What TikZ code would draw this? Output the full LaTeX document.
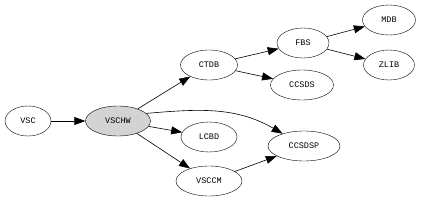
\documentclass[tikz,border=0pt]{standalone}
\usepackage{fontspec}
\setmonofont{Liberation Mono}
\usetikzlibrary{shapes.geometric,arrows.meta}
\definecolor{HWGray}{RGB}{211,211,211}

\begin{document}
\begin{tikzpicture}[x=1pt,y=-1pt,
  modnode/.style={draw,ellipse,inner sep=0pt,minimum height=30pt,
                  minimum width=54pt,font=\ttfamily\fontsize{8.5}{9}\selectfont},
  dep/.style={-{Triangle[length=11pt,width=8pt]},line width=0.6pt},
]
\useasboundingbox (0,0) rectangle (421,201);
\node[modnode,minimum width=46pt] (vsc) at (28,121) {VSC};
\node[modnode,minimum width=65pt,fill=HWGray] (vschw) at (118,121) {VSCHW};
\node[modnode,minimum width=57pt] (ctdb) at (209,65) {CTDB};
\node[modnode,minimum width=52pt] (fbs) at (303,43) {FBS};
\node[modnode,minimum width=53pt] (mdb) at (389,20) {MDB};
\node[modnode,minimum width=51pt] (zlib) at (389,65) {ZLIB};
\node[modnode,minimum width=63pt] (ccsds) at (302,85) {CCSDS};
\node[modnode,minimum width=56pt] (lcbd) at (209,137) {LCBD};
\node[modnode,minimum width=72pt] (ccsdsp) at (304,146) {CCSDSP};
\node[modnode,minimum width=66pt] (vsccm) at (209,181) {VSCCM};

\draw[dep] (vsc) -- (vschw);
\draw[dep] (vschw) -- (ctdb);
\draw[dep] (vschw) -- (lcbd);
\draw[dep] (vschw) -- (vsccm);
\draw[dep] (vschw.15) to[out=5,in=150] (ccsdsp);
\draw[dep] (ctdb) -- (fbs);
\draw[dep] (ctdb) -- (ccsds);
\draw[dep] (fbs) -- (mdb);
\draw[dep] (fbs) -- (zlib);
\draw[dep] (vsccm) -- (ccsdsp);
\end{tikzpicture}
\end{document}
